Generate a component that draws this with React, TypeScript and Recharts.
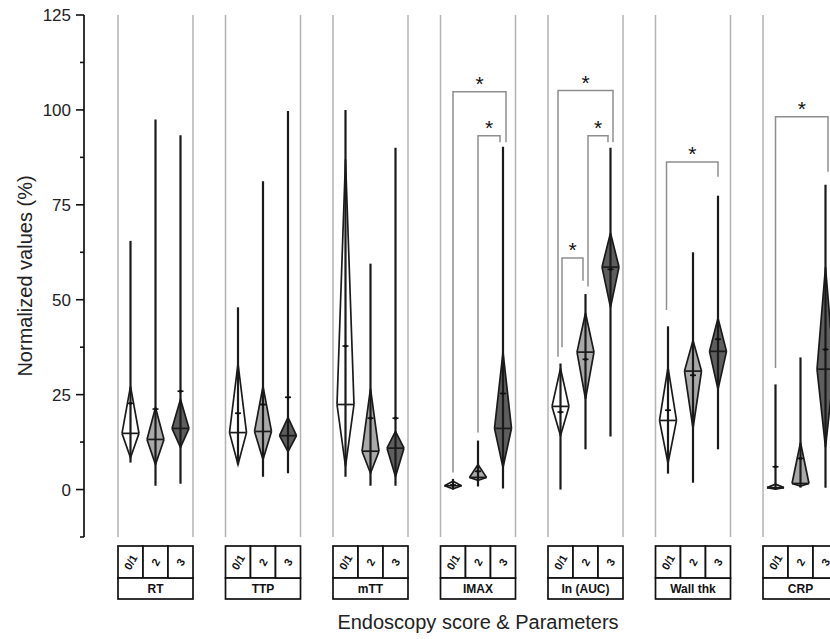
import React from 'react';
import { ComposedChart, XAxis, YAxis, Line, Area, Scatter, ReferenceLine, Label } from 'recharts';

const PARAMS = ['RT', 'TTP', 'mTT', 'IMAX', 'In (AUC)', 'Wall thk', 'CRP'];
const SCORES = ['0/1', '2', '3'];

// values per parameter, ordered by endoscopy score [0/1, 2, 3]
const WHISKER_MIN = [
  [7.1, 1.0, 1.5], [6.6, 3.4, 4.3], [3.4, 1.0, 1.0], [0, 0.8, 0.3],
  [0, 10.6, 14.0], [4.2, 1.8, 10.6], [0, 0.5, 0.5],
];
const WHISKER_MAX = [
  [65.5, 97.5, 93.3], [48, 81.2, 99.7], [100, 59.5, 90], [2.8, 12.9, 90.3],
  [33.2, 51.5, 90.0], [43.0, 62.5, 77.4], [27.7, 34.8, 80.3],
];
const LOWER = [
  [8.4, 6.6, 11.1], [6.6, 7.9, 10.0], [6.1, 4.3, 3.4], [0.2, 2.4, 5.8],
  [14.2, 23.8, 48.0], [6.9, 16.1, 26.4], [0.1, 0.9, 11.1],
];
const UPPER = [
  [27.2, 21.6, 23.8], [33.2, 27.2, 19.0], [87, 26.6, 15.3], [2.2, 6.6, 36.2],
  [31.9, 46.5, 67.6], [32.2, 39.3, 45.1], [1.4, 12.4, 58.6],
];
const MEDIAN = [
  [14.8, 13.2, 16.1], [15.0, 15.3, 14.2], [22.4, 10.1, 10.9], [1.0, 3.2, 16.1],
  [21.9, 36.2, 58.6], [18.2, 31.2, 36.4], [0.5, 1.6, 31.7],
];
const MEAN = [
  [22.7, 21.2, 25.9], [20.1, 22.4, 24.3], [37.8, 18.8, 18.8], [1.2, 4.8, 25.3],
  [20.4, 34.3, 58.0], [20.9, 30.1, 39.6], [6.0, 8.2, 36.9],
];

// significance brackets
const BR_PARAM = [3, 3, 4, 4, 4, 5, 6];
const BR_FROM = [0, 1, 0, 1, 0, 0, 0];
const BR_TO = [2, 2, 2, 2, 1, 2, 2];
const BR_LEVEL = [104.8, 93.2, 105.1, 93.2, 61.0, 86.3, 98.2];
const BR_LEFT_END = [4.5, 15, 35, 53.5, 37.5, 47.3, 32];
const BR_RIGHT_END = [91.5, 91.5, 91.5, 91.5, 55, 82.4, 83.7];

const Y_TICKS = [-12.5, 0, 12.5, 25, 37.5, 50, 62.5, 75, 87.5, 100, 112.5, 125];

// layout (x in units of one score column)
const PANEL_STEP = 4.3;
const HALF_W = 0.34;
const LEG_NUDGE = [[0, 0.12], [0, -0.12], [-0.1, 0.1], [0.1, -0.1], [0.06, -0.1], [-0.06, 0], [0, 0.1]];
const FILLS = ['#ffffff', '#a9a9a9', '#5e5e5e'];
const FONT = '"Liberation Sans", Arial, sans-serif';

const gx = (p: number, g: number) => p * PANEL_STEP + g + 0.5;
const GROUP_X = PARAMS.flatMap((_, p) => SCORES.map((__, g) => gx(p, g)));

function ScoreTick(props: any) {
  const { x, y, index } = props;
  const g = index % 3;
  const p = Math.floor(index / 3);
  const top = y + 9;
  return (
    <g>
      <rect x={x - 12.5} y={top} width={25} height={32} fill="#fff" stroke="#111" strokeWidth={1.7} />
      <text
        x={x}
        y={top + 16}
        transform={`rotate(-60 ${x} ${top + 16})`}
        textAnchor="middle"
        dominantBaseline="central"
        fontSize={11}
        fontWeight="bold"
        fontFamily={FONT}
        fill="#111"
      >
        {SCORES[g]}
      </text>
      {g === 1 && (
        <g>
          <rect x={x - 37.5} y={top + 32} width={75} height={21} fill="#fff" stroke="#111" strokeWidth={1.7} />
          <text x={x} y={top + 47} textAnchor="middle" fontSize={12} fontWeight="bold" fontFamily={FONT} fill="#111">
            {PARAMS[p]}
          </text>
        </g>
      )}
    </g>
  );
}

function ValueTick(props: any) {
  const { x, y, payload } = props;
  const v = payload.value;
  const major = v >= 0 && v % 25 === 0;
  return (
    <g>
      <line x1={x - (major ? 8 : 4)} x2={x} y1={y} y2={y} stroke="#111" strokeWidth={1.6} />
      {major && (
        <text x={x - 13} y={y + 6} textAnchor="end" fontSize={17} fontFamily={FONT} fill="#222">
          {v}
        </text>
      )}
    </g>
  );
}

function MeanMark(props: any) {
  const { cx, cy } = props;
  return (
    <g>
      <line x1={cx - 3} x2={cx + 3} y1={cy} y2={cy} stroke="#111" strokeWidth={1.6} />
      <circle cx={cx} cy={cy} r={1.6} fill="#111" />
    </g>
  );
}

function Star(props: any) {
  const { cx, cy } = props;
  return (
    <text x={cx} y={cy - 1} textAnchor="middle" fontSize={21} fontFamily={FONT} fill="#111">
      *
    </text>
  );
}

export default function App() {
  const groups: { p: number; g: number }[] = [];
  PARAMS.forEach((_, p) => SCORES.forEach((__, g) => groups.push({ p, g })));

  const means = groups.map(({ p, g }) => ({ x: gx(p, g), y: MEAN[p][g] }));

  const brackets = BR_PARAM.map((p, i) => {
    const lx = gx(p, BR_FROM[i]) + LEG_NUDGE[i][0];
    const rx = gx(p, BR_TO[i]) + LEG_NUDGE[i][1];
    return [
      { x: lx, y: BR_LEFT_END[i] },
      { x: lx, y: BR_LEVEL[i] },
      { x: rx, y: BR_LEVEL[i] },
      { x: rx, y: BR_RIGHT_END[i] },
    ];
  });
  const stars = BR_PARAM.map((p, i) => ({
    x: (gx(p, BR_FROM[i]) + LEG_NUDGE[i][0] + gx(p, BR_TO[i]) + LEG_NUDGE[i][1]) / 2,
    y: BR_LEVEL[i],
  }));

  return (
    <div style={{ position: 'absolute', left: 0, top: 0, width: 830, height: 639, background: '#fff' }}>
      <ComposedChart width={830} height={639} margin={{ top: 15, right: 0, bottom: 12, left: 0 }}>
        <XAxis
          type="number"
          dataKey="x"
          domain={[-1.36, 28.48]}
          allowDataOverflow
          ticks={GROUP_X}
          interval={0}
          tick={<ScoreTick />}
          tickLine={false}
          axisLine={false}
          tickSize={0}
          tickMargin={0}
          height={90}
        >
          <Label
            content={() => (
              <text x={478} y={629} textAnchor="middle" fontSize={20} fontFamily={FONT} fill="#222">
                Endoscopy score &amp; Parameters
              </text>
            )}
          />
        </XAxis>
        <YAxis
          type="number"
          domain={[-12.5, 125]}
          allowDataOverflow
          ticks={Y_TICKS}
          interval={0}
          tick={<ValueTick />}
          tickLine={false}
          tickSize={0}
          tickMargin={0}
          axisLine={{ stroke: '#111', strokeWidth: 1.7 }}
          width={84}
        >
          <Label
            content={() => (
              <text
                x={25}
                y={276}
                transform="rotate(-90 25 276)"
                textAnchor="middle"
                dominantBaseline="central"
                fontSize={20}
                fontFamily={FONT}
                fill="#222"
              >
                Normalized values (%)
              </text>
            )}
          />
        </YAxis>

        {PARAMS.map((_, p) => (
          <ReferenceLine key={`l${p}`} x={p * PANEL_STEP} stroke="#b3b3b3" strokeWidth={1.5} />
        ))}
        {PARAMS.map((_, p) => (
          <ReferenceLine key={`r${p}`} x={p * PANEL_STEP + 3} stroke="#b3b3b3" strokeWidth={1.5} />
        ))}

        {brackets.map((d, i) => (
          <Line
            key={`b${i}`}
            data={d}
            dataKey="y"
            type="linear"
            stroke="#8e8e8e"
            strokeWidth={1.5}
            dot={false}
            activeDot={false}
            isAnimationActive={false}
          />
        ))}

        {groups.map(({ p, g }) => (
          <Line
            key={`w${p}-${g}`}
            data={[
              { x: gx(p, g), y: WHISKER_MIN[p][g] },
              { x: gx(p, g), y: WHISKER_MAX[p][g] },
            ]}
            dataKey="y"
            type="linear"
            stroke="#1a1a1a"
            strokeWidth={2.2}
            dot={false}
            activeDot={false}
            isAnimationActive={false}
          />
        ))}

        {groups.map(({ p, g }) => (
          <Area
            key={`d${p}-${g}`}
            data={[
              { x: gx(p, g) - HALF_W, v: [MEDIAN[p][g], MEDIAN[p][g]] },
              { x: gx(p, g), v: [LOWER[p][g], UPPER[p][g]] },
              { x: gx(p, g) + HALF_W, v: [MEDIAN[p][g], MEDIAN[p][g]] },
            ]}
            dataKey="v"
            type="linear"
            fill={FILLS[g]}
            fillOpacity={1}
            stroke="#1a1a1a"
            strokeWidth={1.7}
            dot={false}
            activeDot={false}
            isAnimationActive={false}
          />
        ))}

        {groups.map(({ p, g }) => (
          <Line
            key={`m${p}-${g}`}
            data={[
              { x: gx(p, g) - HALF_W, y: MEDIAN[p][g] },
              { x: gx(p, g) + HALF_W, y: MEDIAN[p][g] },
            ]}
            dataKey="y"
            type="linear"
            stroke="#1a1a1a"
            strokeWidth={1.7}
            dot={false}
            activeDot={false}
            isAnimationActive={false}
          />
        ))}

        <Scatter data={means} dataKey="y" shape={<MeanMark />} isAnimationActive={false} />
        <Scatter data={stars} dataKey="y" shape={<Star />} isAnimationActive={false} />
      </ComposedChart>
    </div>
  );
}
